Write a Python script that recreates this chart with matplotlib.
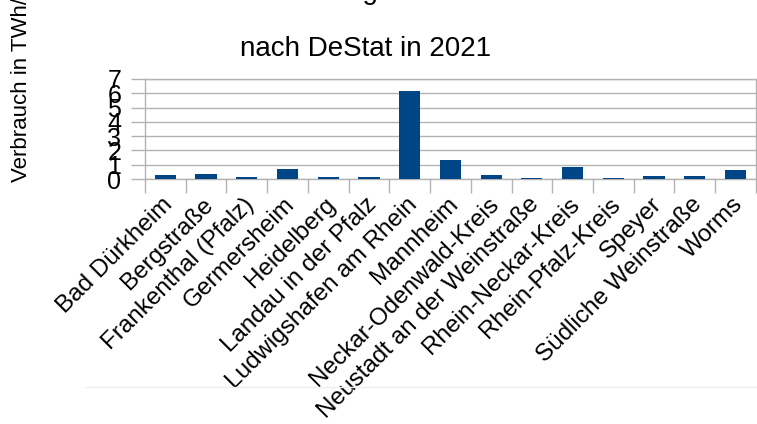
import numpy as np
import matplotlib.pyplot as plt
from matplotlib.transforms import ScaledTranslation

plt.rcParams['font.family'] = ['Liberation Sans', 'DejaVu Sans']

# Verbrauch je Stadt/Kreis in TWh/a
kreise = ['Bad Dürkheim', 'Bergstraße', 'Frankenthal (Pfalz)', 'Germersheim',
          'Heidelberg', 'Landau in der Pfalz', 'Ludwigshafen am Rhein',
          'Mannheim', 'Neckar-Odenwald-Kreis', 'Neustadt an der Weinstraße',
          'Rhein-Neckar-Kreis', 'Rhein-Pfalz-Kreis', 'Speyer',
          'Südliche Weinstraße', 'Worms']
verbrauch = [0.28, 0.35, 0.14, 0.70, 0.14, 0.13, 6.16, 1.33, 0.28, 0.07,
             0.84, 0.05, 0.21, 0.21, 0.63]
yticks = [0, 1, 2, 3, 4, 5, 6, 7]

fig = plt.figure(figsize=(7.57, 4.24), dpi=100)
ax = fig.add_axes([0.1915, 0.5778, 0.807, 0.2359])

x = np.arange(len(kreise))
ax.bar(x, verbrauch, width=0.52, color='#004586', zorder=3)

ax.set_xlim(-0.5, len(kreise) - 0.5)
ax.set_ylim(0, 7)
ax.set_yticks(yticks)
ax.set_yticklabels([str(t) for t in yticks], fontsize=18)
ax.grid(axis='y', color='#b3b3b3', linewidth=1, zorder=0)

# Trennstriche zwischen den Kategorien, Beschriftung in der Mitte
ax.set_xticks(np.arange(len(kreise) + 1) - 0.5)
ax.set_xticklabels([])
ax.set_xticks(x, minor=True)
ax.set_xticklabels(kreise, minor=True, rotation=45, ha='right',
                   rotation_mode='anchor', va='center', fontsize=17.5)
ax.tick_params(axis='x', which='major', length=10, color='#b3b3b3', width=1)
ax.tick_params(axis='x', which='minor', length=0, pad=16)
ax.tick_params(axis='y', length=10, color='#b3b3b3', width=1, pad=7)
offset = ScaledTranslation(0.04, 0, fig.dpi_scale_trans)
for lab in ax.get_xticklabels(minor=True):
    lab.set_transform(lab.get_transform() + offset)

for s in ax.spines.values():
    s.set_color('#b3b3b3')
    s.set_linewidth(1)

fig.text(0.483, 1 + 1 / 424, 'Verbrauch von Erdgas in der Industrie',
         ha='center', va='baseline', fontsize=20)
fig.text(0.483, 1 - 56 / 424, 'nach DeStat in 2021',
         ha='center', va='baseline', fontsize=20)
fig.text(22 / 757, 1 - 182 / 424, 'Verbrauch in TWh/a', rotation=90,
         ha='center', va='bottom', fontsize=16)

fig.add_artist(plt.Line2D([85 / 757, 1], [1 - 387 / 424] * 2,
                          color='#eeeeee', linewidth=1))

fig.savefig('out.png', dpi=100)
